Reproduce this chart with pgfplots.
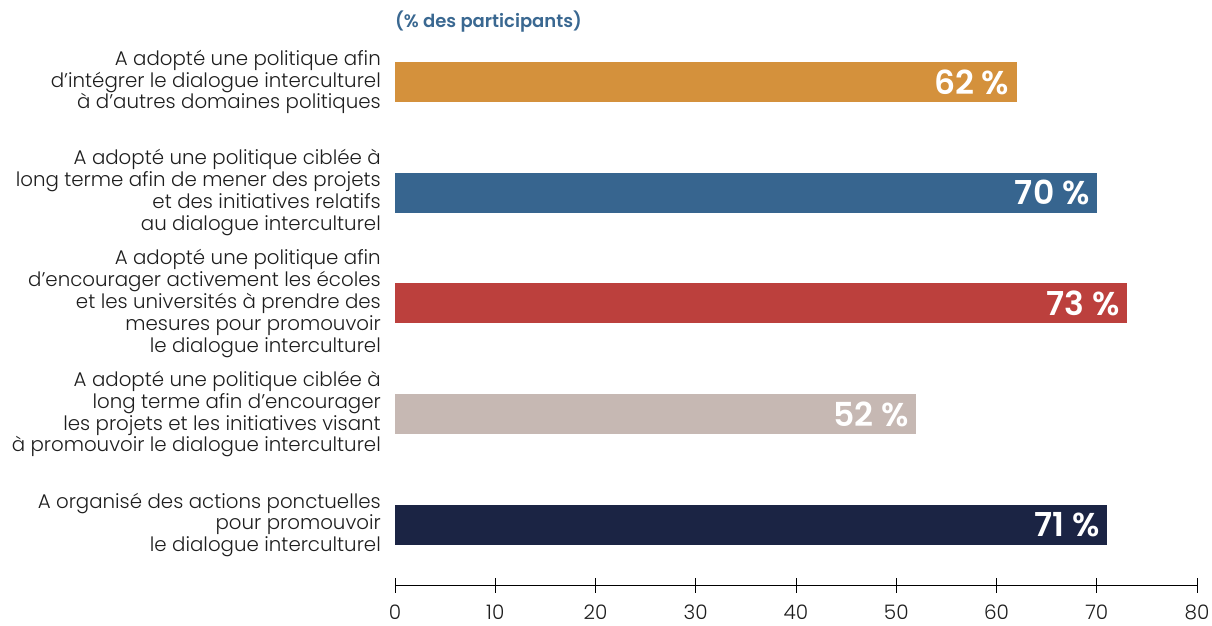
\documentclass[border=0pt]{standalone}
\usepackage{pgfplots}
\pgfplotsset{compat=1.18}
\usepackage{fontspec}
\setmainfont{Poppins}[UprightFont=* Light, BoldFont=* SemiBold]
\definecolor{corange}{HTML}{D4913C}
\definecolor{cblue}{HTML}{37658F}
\definecolor{cred}{HTML}{BC403D}
\definecolor{cbeige}{HTML}{C6B8B3}
\definecolor{cnavy}{HTML}{1B2444}
\definecolor{ctitle}{HTML}{3A6891}
\definecolor{ctext}{HTML}{1E1E1E}
\begin{document}
\begin{tikzpicture}
\begin{axis}[
  scale only axis,
  width=802pt, height=558.4pt,
  xmin=0, xmax=80, ymin=-0.542, ymax=4.5,
  xbar, bar width=40pt, bar shift=0pt,
  axis x line*=bottom, axis y line*=left,
  x axis line style={-, black, line width=0.8pt},
  y axis line style={draw=none},
  xtick={0,10,...,80},
  major x tick style={black, line width=0.6pt},
  tick align=center, major tick length=15pt,
  ytick={0,1,2,3,4},
  major y tick style={draw=none},
  yticklabels={
    {A organisé des actions ponctuelles\\pour promouvoir\\le dialogue interculturel},
    {A adopté une politique ciblée à\\long terme afin d’encourager\\les projets et les initiatives visant\\à promouvoir le dialogue interculturel},
    {A adopté une politique afin\\d’encourager activement les écoles\\et les universités à prendre des\\mesures pour promouvoir\\le dialogue interculturel},
    {A adopté une politique ciblée à\\long terme afin de mener des projets\\et des initiatives relatifs\\au dialogue interculturel},
    {A adopté une politique afin\\d’intégrer le dialogue interculturel\\à d'autres domaines politiques}},
  yticklabel style={align=right, font=\fontsize{19.8}{21.8}\selectfont, text=ctext, inner sep=0pt, xshift=-6.5pt},
  xticklabel style={font=\fontsize{20}{24}\selectfont, text=ctext, inner sep=0pt, yshift=-12pt},
  /pgf/number format/assume math mode=true,
  nodes near coords={\pgfmathprintnumber{\pgfplotspointmeta}~\%},
  every node near coord/.append style={anchor=east, inner sep=0pt, xshift=-7pt, text=white, font=\fontsize{33}{38}\bfseries\selectfont},
  clip=false,
]
\addplot[fill=cnavy, draw=none] coordinates {(71,0)};
\addplot[fill=cbeige, draw=none] coordinates {(52,1)};
\addplot[fill=cred, draw=none] coordinates {(73,2)};
\addplot[fill=cblue, draw=none] coordinates {(70,3)};
\addplot[fill=corange, draw=none] coordinates {(62,4)};
\coordinate (O) at (rel axis cs:0,0);
\node[anchor=base west, inner sep=0pt, text=ctitle, font=\fontsize{18}{21}\bfseries\selectfont] at ([yshift=-1pt]rel axis cs:0,1) {(\% des participants)};
\end{axis}
\pgfresetboundingbox
\path ([shift={(-395pt,-40pt)}]O) rectangle ([shift={(817pt,585pt)}]O);
\end{tikzpicture}
\end{document}
